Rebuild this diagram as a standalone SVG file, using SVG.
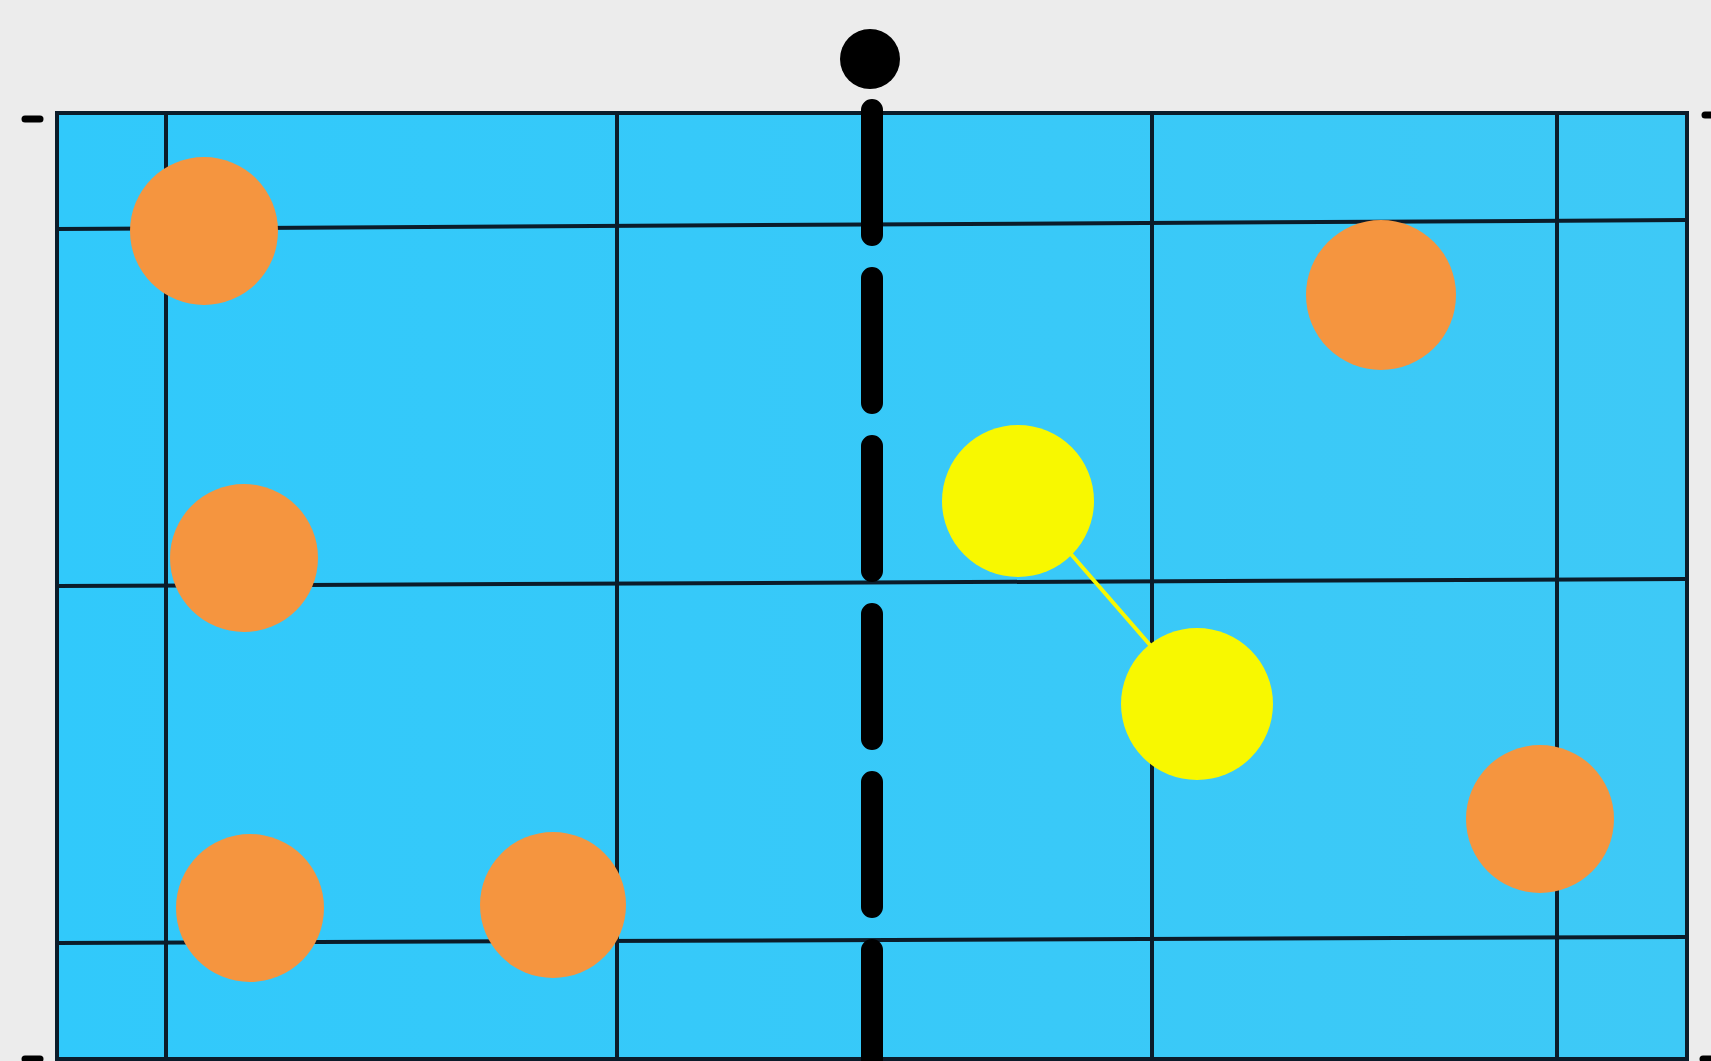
<svg xmlns="http://www.w3.org/2000/svg" width="1711" height="1061" viewBox="0 0 1711 1061">
  <style>
    .grid { stroke: #0b1c2a; stroke-width: 4; fill: none; }
    .orange { fill: #f5953f; }
    .yellow { fill: #f8f800; }
    .tick { stroke: #000; stroke-width: 7; stroke-linecap: round; }
  </style>
  <defs>
    <linearGradient id="field" x1="0" y1="0" x2="1" y2="0">
      <stop offset="0" stop-color="#31c9fb"/>
      <stop offset="1" stop-color="#3ec9f6"/>
    </linearGradient>
  </defs>
  <rect x="0" y="0" width="1711" height="1061" fill="#ececec"/>
  <!-- corner ticks -->
  <line class="tick" x1="25" y1="119" x2="40" y2="119"/>
  <line class="tick" x1="1705" y1="115" x2="1715" y2="115"/>
  <line class="tick" x1="25" y1="1059" x2="40" y2="1059"/>
  <line class="tick" x1="1703" y1="1059" x2="1715" y2="1059"/>
  <!-- field -->
  <rect x="57" y="113" width="1630" height="946" fill="url(#field)"/>
  <g class="grid">
    <line x1="166" y1="113" x2="166" y2="1059"/>
    <line x1="617" y1="113" x2="617" y2="1059"/>
    <line x1="1152" y1="113" x2="1152" y2="1059"/>
    <line x1="1557" y1="113" x2="1557" y2="1059"/>
    <line x1="57" y1="229" x2="1687" y2="220"/>
    <line x1="57" y1="586" x2="1687" y2="579"/>
    <line x1="57" y1="943" x2="1687" y2="937"/>
    <rect x="57" y="113" width="1630" height="946"/>
  </g>
  <!-- center dashed line and dot -->
  <line x1="872" y1="110" x2="872" y2="1075" stroke="#000" stroke-width="22" stroke-linecap="round" stroke-dasharray="125 43"/>
  <circle cx="870" cy="59" r="30" fill="#000"/>
  <!-- connectors -->
  <g id="connectors">
    <line x1="1070" y1="553" x2="1150" y2="645" stroke="#f8f800" stroke-width="4"/>
  </g>
  <!-- nodes -->
  <g id="o1"><circle class="orange" cx="204" cy="231" r="74"/></g>
  <g id="o2"><circle class="orange" cx="1381" cy="295" r="75"/></g>
  <g id="o3"><circle class="orange" cx="244" cy="558" r="74"/></g>
  <g id="o4"><circle class="orange" cx="250" cy="908" r="74"/></g>
  <g id="o5"><circle class="orange" cx="553" cy="905" r="73"/></g>
  <g id="o6"><circle class="orange" cx="1540" cy="819" r="74"/></g>
  <g id="y1"><circle class="yellow" cx="1018" cy="501" r="76"/></g>
  <g id="y2"><circle class="yellow" cx="1197" cy="704" r="76"/></g>
</svg>
